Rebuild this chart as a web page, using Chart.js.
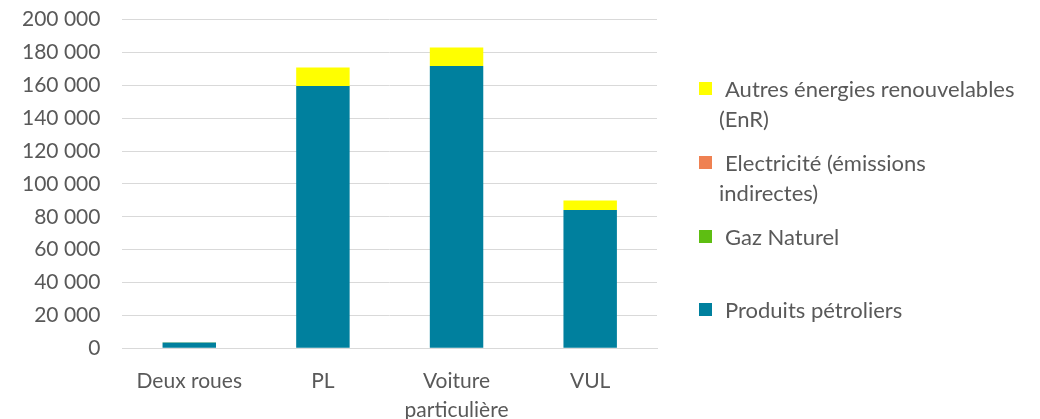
<!DOCTYPE html>
<html>
<head>
<meta charset="utf-8">
<script src="https://cdn.jsdelivr.net/npm/chart.js@4.4.1/dist/chart.umd.min.js"></script>
<style>
  html, body { margin: 0; padding: 0; background: #fff; }
  #wrap { position: relative; width: 1040px; height: 419px; overflow: hidden; font-family: Lato, sans-serif; color: #595959; }
  #wrap canvas { position: absolute; left: 0; top: -15px; }
  .leg { position: absolute; left: 699px; font-size: 22px; line-height: 30px; }
  .leg .box { position: absolute; left: 0; top: 8px; width: 13px; height: 13px; }
  .leg .txt { position: absolute; left: 20px; top: 0; white-space: nowrap; }
  .leg .txt span { display: block; }
  .leg .txt span:first-child { padding-left: 6px; }
</style>
</head>
<body>
<div id="wrap">
  <canvas id="myChart" width="1040" height="450"></canvas>
  <div id="legend"></div>
</div>
<script>
// données
const categories = ['Deux roues', 'PL', ['Voiture', 'particulière'], 'VUL'];
const produitsPetroliers = [3600, 159600, 171800, 84200];
const gazNaturel = [0, 0, 0, 0];
const electricite = [0, 0, 0, 0];
const autresEnR = [100, 11200, 11200, 5800];
const yTicks = [0, 20000, 40000, 60000, 80000, 100000, 120000, 140000, 160000, 180000, 200000];

const series = [
  { label: 'Produits pétroliers', data: produitsPetroliers, color: '#00809E' },
  { label: 'Gaz Naturel', data: gazNaturel, color: '#5EBE12' },
  { label: 'Electricité (émissions indirectes)', data: electricite, color: '#EF8152' },
  { label: 'Autres énergies renouvelables (EnR)', data: autresEnR, color: '#FFFF00' }
];

// légende à droite, ordre inverse comme dans Excel
const legendLines = [
  { lines: ['Autres énergies renouvelables', '(EnR)'], color: '#FFFF00', top: 74 },
  { lines: ['Electricité (émissions', 'indirectes)'], color: '#EF8152', top: 148 },
  { lines: ['Gaz Naturel'], color: '#5EBE12', top: 222 },
  { lines: ['Produits pétroliers'], color: '#00809E', top: 295 }
];
const legendEl = document.getElementById('legend');
legendLines.forEach(item => {
  const d = document.createElement('div');
  d.className = 'leg';
  d.style.top = item.top + 'px';
  d.innerHTML = '<div class="box" style="background:' + item.color + '"></div><div class="txt">' +
    item.lines.map(l => '<span>' + l + '</span>').join('') + '</div>';
  legendEl.appendChild(d);
});

const fmt = v => String(v).replace(/\B(?=(\d{3})+(?!\d))/g, ' ');

const ctx = document.getElementById('myChart');
new Chart(ctx, {
  type: 'bar',
  data: {
    labels: categories,
    datasets: series.map(s => ({
      label: s.label,
      data: s.data,
      backgroundColor: s.color,
      borderWidth: 0,
      barPercentage: 0.4,
      categoryPercentage: 1
    }))
  },
  options: {
    responsive: false,
    animation: false,
    layout: { padding: { top: 0, right: 383, left: 0, bottom: 0 } },
    plugins: {
      legend: { display: false },
      tooltip: { enabled: false }
    },
    scales: {
      x: {
        stacked: true,
        grid: { display: false },
        border: { display: true, color: '#d9d9d9', width: 1 },
        ticks: { color: '#595959', font: { family: 'Lato', size: 21, lineHeight: 1.35 }, padding: 11, maxRotation: 0 }
      },
      y: {
        stacked: true,
        min: 0,
        max: 200000,
        afterBuildTicks: axis => { axis.ticks = yTicks.map(v => ({ value: v })); },
        grid: { color: '#d9d9d9', drawTicks: false },
        border: { display: false },
        ticks: {
          color: '#595959',
          font: { family: 'Lato', size: 21 },
          padding: 22,
          callback: v => fmt(v)
        }
      }
    }
  }
});
</script>
</body>
</html>
